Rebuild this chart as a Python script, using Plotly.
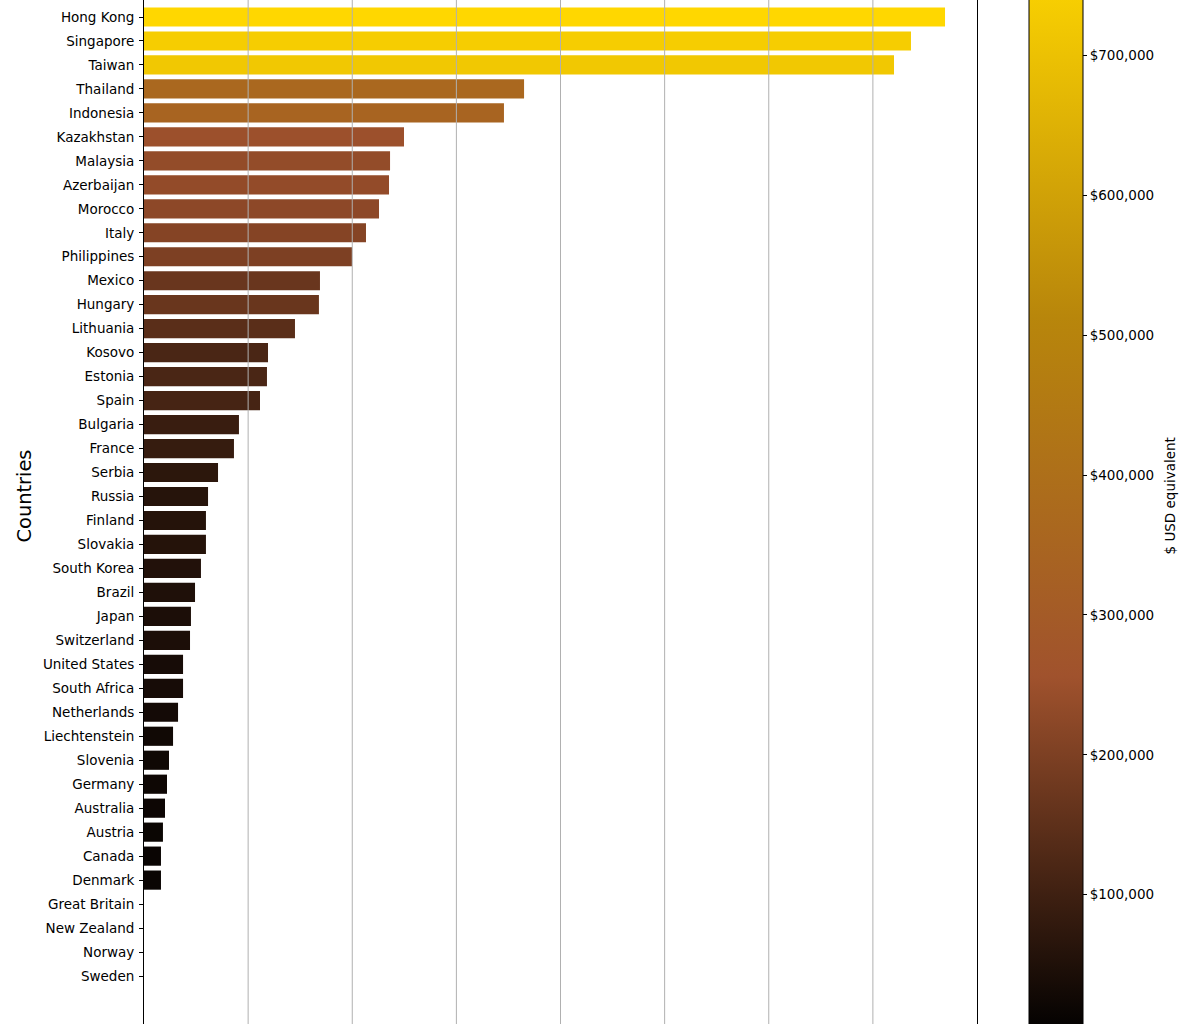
import plotly.graph_objects as go

countries = ["Hong Kong", "Singapore", "Taiwan", "Thailand", "Indonesia", "Kazakhstan",
             "Malaysia", "Azerbaijan", "Morocco", "Italy", "Philippines", "Mexico",
             "Hungary", "Lithuania", "Kosovo", "Estonia", "Spain", "Bulgaria", "France",
             "Serbia", "Russia", "Finland", "Slovakia", "South Korea", "Brazil", "Japan",
             "Switzerland", "United States", "South Africa", "Netherlands", "Liechtenstein",
             "Slovenia", "Germany", "Australia", "Austria", "Canada", "Denmark",
             "Great Britain", "New Zealand", "Norway", "Sweden"]
usd_values = [769300, 736600, 720300, 365000, 345700, 249700,
              236300, 235300, 225700, 213200, 199800, 169000,
              168000, 145000, 119100, 118100, 111400, 91200, 86400,
              71100, 61500, 59500, 59500, 54700, 49000, 45100,
              44200, 37500, 37500, 32700, 27900,
              24000, 22100, 20200, 18200, 16300, 16300,
              0, 0, 0, 0]
cbar_ticks = [100000, 200000, 300000, 400000, 500000, 600000, 700000]
x_grid = [100000, 200000, 300000, 400000, 500000, 600000, 700000]
x_max = 800000

W, H = 1200, 1024
L, R = 144, 223
plot_w = W - L - R
FONT = "DejaVu Sans"

colorscale = [[0.0, "black"], [1/3, "sienna"], [2/3, "darkgoldenrod"], [1.0, "gold"]]

fig = go.Figure()
fig.add_trace(go.Bar(
    y=countries, x=usd_values, orientation="h",
    marker=dict(
        color=usd_values, colorscale=colorscale,
        cmin=0, cmax=max(usd_values),
        line=dict(width=0),
        colorbar=dict(
            thickness=54, thicknessmode="pixels",
            len=1076, lenmode="pixels",
            x=(1029 - L) / plot_w, xanchor="left", xpad=0,
            y=1 + 41.5 / H, yanchor="top", ypad=0,
            outlinewidth=1, outlinecolor="black",
            ticks="outside", ticklen=4, tickwidth=1, tickcolor="black",
            tickvals=cbar_ticks, tickformat="$,.0f",
            tickfont=dict(family=FONT, size=13.5, color="black"),
        ),
    ),
    showlegend=False,
    hoverinfo="skip",
))

for gx in x_grid:
    fig.add_shape(type="line", xref="x", yref="paper", x0=gx, x1=gx, y0=0, y1=1,
                  line=dict(color="#b0b0b0", width=1), layer="above")

fig.add_annotation(text="Countries", xref="paper", yref="paper",
                   x=(24 - L) / plot_w, y=1 - 496.5 / H, textangle=-90,
                   showarrow=False, xanchor="center", yanchor="middle",
                   font=dict(family=FONT, size=19.4, color="black"))
fig.add_annotation(text="$ USD equivalent", xref="paper", yref="paper",
                   x=(1169 - L) / plot_w, y=1 - 496.5 / H, textangle=-90,
                   showarrow=False, xanchor="center", yanchor="middle",
                   font=dict(family=FONT, size=13.5, color="black"))

n = len(countries)
spacing = (976 - 17) / (n - 1)
fig.update_layout(
    template="none",
    width=W, height=H,
    margin=dict(l=L, r=R, t=0, b=0, autoexpand=False),
    paper_bgcolor="white", plot_bgcolor="white",
    bargap=0.2,
    font=dict(family=FONT, size=13.5, color="black"),
    xaxis=dict(range=[0, x_max], showgrid=False, zeroline=False,
               showticklabels=False, ticks="", showline=False, automargin=False),
    yaxis=dict(type="category", categoryorder="array", categoryarray=countries,
               range=[(H - 17) / spacing, -17 / spacing],
               showgrid=False, zeroline=False, showline=True, mirror=True,
               linecolor="black", linewidth=1,
               ticks="outside", ticklen=4, tickwidth=1, tickcolor="black",
               ticklabelstandoff=2,
               tickfont=dict(family=FONT, size=13.5, color="black"),
               automargin=False),
)

fig.write_html("out.html", config={"displayModeBar": False},
               post_script="document.body.style.margin='0';document.body.style.overflow='hidden';")
